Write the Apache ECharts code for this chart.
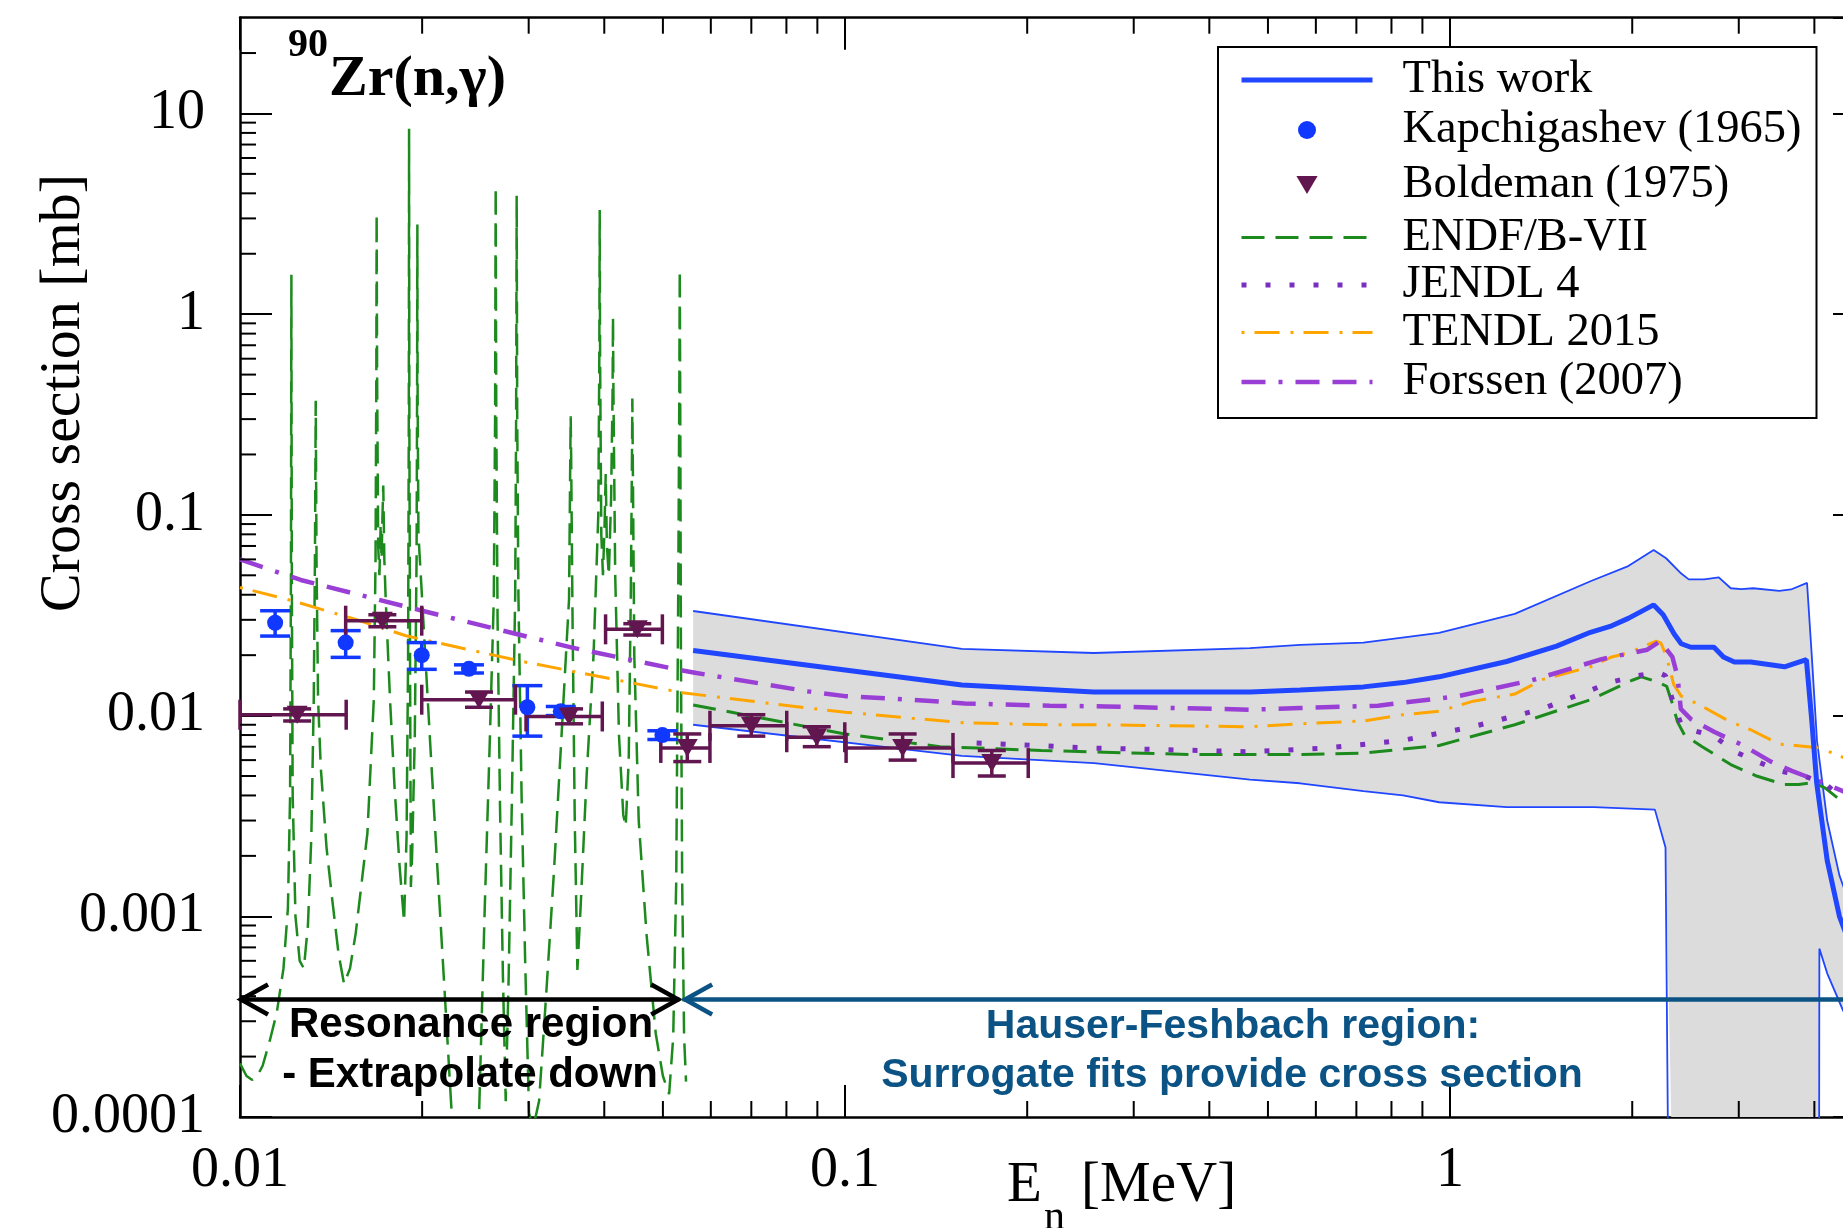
<!DOCTYPE html>
<html lang="en">
<head>
<meta charset="utf-8">
<title>90Zr(n,γ) capture cross section</title>
<script src="https://cdn.jsdelivr.net/npm/echarts@6.0.0/dist/echarts.min.js"></script>
<style>
  html, body { margin: 0; padding: 0; background: #ffffff; }
  #chart { width: 1843px; height: 1228px; }
</style>
</head>
<body>
<div id="chart"></div>
<script>
// ---- Axis ranges (neutron energy in MeV, cross section in mb) and labelled ticks ----
const energyRange = [0.01, 4.85];
const sigmaRange = [0.0001, 30];
const energyTicks = [0.01, 0.1, 1];
const energyTickLabels = ['0.01', '0.1', '1'];
const sigmaTicks = [0.0001, 0.001, 0.01, 0.1, 1, 10];
const sigmaTickLabels = ['0.0001', '0.001', '0.01', '0.1', '1', '10'];

// ---- This work: central curve and uncertainty band, [E, sigma] ----
const thisWork = [
  [0.0561, 0.0211], [0.156, 0.0142], [0.2577, 0.0131], [0.467, 0.0131], [0.565, 0.0134],
  [0.719, 0.0139], [0.836, 0.0146], [0.959, 0.0156], [1.24, 0.0186], [1.5, 0.0222],
  [1.706, 0.0260], [1.85, 0.0280], [1.97, 0.0305], [2.17, 0.0356], [2.25, 0.0318],
  [2.346, 0.0255], [2.41, 0.0228], [2.50, 0.0219], [2.73, 0.0219], [2.83, 0.0196],
  [2.95, 0.0185], [3.14, 0.0185], [3.57, 0.0175], [3.88, 0.0190], [3.96, 0.0095],
  [4.036, 0.0046], [4.2, 0.0019], [4.4, 0.0010], [4.6, 0.0007], [4.85, 0.0005]
];
const thisWorkUpper = [
  [0.0561, 0.0332], [0.156, 0.0215], [0.2577, 0.0205], [0.467, 0.0217], [0.565, 0.0225],
  [0.719, 0.0231], [0.959, 0.0258], [1.279, 0.0321], [1.706, 0.0467], [1.97, 0.0556],
  [2.17, 0.0669], [2.275, 0.0608], [2.41, 0.0510], [2.48, 0.0477], [2.63, 0.0477],
  [2.78, 0.0488], [2.91, 0.0431], [3.03, 0.0427], [3.17, 0.0431], [3.50, 0.0418],
  [3.66, 0.0425], [3.89, 0.0458], [3.96, 0.0200], [4.04, 0.0075], [4.2, 0.0030],
  [4.4, 0.0016], [4.6, 0.0011], [4.85, 0.0008]
];
const thisWorkLower = [
  [0.0561, 0.0090], [0.156, 0.0063], [0.258, 0.0058], [0.467, 0.0048], [0.565, 0.0046],
  [0.719, 0.0042], [0.836, 0.0040], [0.959, 0.0037], [1.24, 0.0035], [1.73, 0.0035],
  [2.18, 0.0034], [2.27, 0.0022], [2.32, 0.000001], [4.065, 0.000001], [4.077, 0.00069],
  [4.2, 0.00052], [4.46, 0.00034], [4.85, 0.00022]
];

// ---- Kapchigashev (1965) ----
const kapE = [0.01143, 0.01495, 0.01997, 0.0239, 0.02985, 0.0339, 0.0499];
const kapSigma = [0.0290, 0.0231, 0.0200, 0.0171, 0.0110, 0.0105, 0.0080];
const kapSigmaLo = [0.0249, 0.0195, 0.0170, 0.0163, 0.0079, 0.0100, 0.0076];
const kapSigmaHi = [0.0333, 0.0265, 0.0231, 0.0179, 0.0141, 0.0111, 0.0084];

// ---- Boldeman (1975) ----
const bolE = [0.01243, 0.01719, 0.02483, 0.03498, 0.04536, 0.05486, 0.0700, 0.0898, 0.1245, 0.1748];
const bolSigma = [0.0101, 0.0297, 0.0120, 0.0099, 0.0269, 0.0069, 0.0089, 0.0078, 0.0069, 0.0058];
const bolELo = [0.0100, 0.01495, 0.01997, 0.0297, 0.0402, 0.0496, 0.0598, 0.0801, 0.1004, 0.1508];
const bolEHi = [0.01498, 0.01997, 0.02853, 0.0397, 0.0499, 0.0598, 0.0801, 0.0999, 0.1508, 0.2008];
const bolSigmaLo = [0.0094, 0.0277, 0.0110, 0.0091, 0.0252, 0.0059, 0.0079, 0.0070, 0.0060, 0.0050];
const bolSigmaHi = [0.0108, 0.0318, 0.0131, 0.0108, 0.0287, 0.0081, 0.0101, 0.0088, 0.0081, 0.0067];

// ---- ENDF/B-VII: resolved resonances, then the smooth evaluation ----
const endfResonances = [
  [0.01000, 1.85e-4], [0.01025, 1.60e-4], [0.01048, 1.53e-4], [0.01070, 1.62e-4], [0.01090, 1.80e-4],
  [0.01120, 2.40e-4], [0.01150, 3.30e-4], [0.01180, 5.5e-4], [0.01200, 1.1e-3], [0.01210, 4.0e-3],
  [0.01214, 0.05], [0.01216, 1.57], [0.01218, 0.05], [0.01222, 4.0e-3], [0.01235, 1.0e-3],
  [0.01255, 6.0e-4], [0.01275, 5.5e-4], [0.01295, 9.0e-4], [0.01312, 2.5e-3], [0.01324, 0.012],
  [0.01330, 0.06], [0.01334, 0.37], [0.01338, 0.06], [0.01346, 0.012], [0.01360, 5.5e-3],
  [0.01390, 2.2e-3], [0.01421, 1.2e-3], [0.01455, 6.5e-4], [0.01486, 4.6e-4], [0.01520, 5.5e-4],
  [0.01553, 8.2e-4], [0.01590, 1.5e-3], [0.01624, 2.6e-3], [0.01664, 0.012], [0.01675, 0.06],
  [0.01680, 0.5], [0.01682, 3.16], [0.01685, 0.5], [0.01692, 0.07], [0.01700, 0.05],
  [0.01708, 0.09], [0.01714, 0.06], [0.01720, 0.10], [0.01725, 0.14], [0.01732, 0.06],
  [0.01741, 0.038], [0.01770, 0.012], [0.01800, 4.5e-3], [0.01835, 1.8e-3], [0.01867, 9.4e-4],
  [0.01885, 2.5e-3], [0.01896, 0.02], [0.01901, 0.3], [0.01903, 8.4], [0.01905, 0.3],
  [0.01910, 0.02], [0.01916, 1.4e-3], [0.01925, 2.0e-3], [0.01945, 8.0e-3], [0.01958, 0.06],
  [0.01962, 0.4], [0.01964, 2.8], [0.01966, 0.4], [0.01972, 0.08], [0.02000, 0.038],
  [0.02060, 7.7e-3], [0.02116, 1.9e-3], [0.02181, 4.0e-4], [0.02240, 1.0e-4], [0.02300, 4.5e-5],
  [0.02360, 3.5e-5], [0.02420, 4.5e-5], [0.02483, 1.0e-4], [0.02538, 1.1e-3], [0.02588, 7.7e-3],
  [0.02627, 0.038], [0.02640, 0.3], [0.02646, 4.3], [0.02652, 0.3], [0.02665, 0.03],
  [0.02690, 3.5e-3], [0.02720, 5.0e-4], [0.02749, 1.2e-4], [0.02780, 5.0e-4], [0.02815, 4.0e-3],
  [0.02850, 0.04], [0.02860, 0.3], [0.02866, 3.9], [0.02872, 0.3], [0.02885, 0.04],
  [0.02920, 4.0e-3], [0.02960, 6.0e-4], [0.03004, 1.05e-4], [0.03040, 9.0e-5], [0.03080, 1.0e-4],
  [0.03121, 1.2e-4], [0.03200, 3.7e-4], [0.03300, 1.6e-3], [0.03400, 8.0e-3], [0.03498, 0.038],
  [0.03515, 0.2], [0.03520, 0.31], [0.03526, 0.2], [0.03545, 0.03], [0.03575, 3.0e-3],
  [0.03611, 5.4e-4], [0.03660, 1.2e-3], [0.03740, 5.0e-3], [0.03840, 0.02], [0.03910, 0.1],
  [0.03925, 0.6], [0.03931, 3.3], [0.03937, 0.6], [0.03955, 0.08], [0.03980, 0.05],
  [0.04005, 0.09], [0.04022, 0.16], [0.04040, 0.07], [0.04070, 0.05], [0.04105, 0.12],
  [0.04128, 0.4], [0.04135, 0.97], [0.04142, 0.4], [0.04170, 0.05], [0.04230, 8.0e-3],
  [0.04300, 3.2e-3], [0.04340, 2.8e-3], [0.04390, 6.0e-3], [0.04425, 0.04], [0.04445, 0.2],
  [0.04451, 0.38], [0.04458, 0.2], [0.04484, 0.02], [0.04560, 3.0e-3], [0.04700, 8.0e-4],
  [0.04866, 2.6e-4], [0.05000, 1.6e-4], [0.05120, 1.3e-4], [0.05200, 2.5e-4], [0.05260, 1.5e-3],
  [0.05300, 0.04], [0.05322, 0.4], [0.05331, 1.66], [0.05340, 0.4], [0.05355, 0.02],
  [0.05380, 1.5e-3], [0.05420, 2.5e-4], [0.05460, 1.5e-4]
];
const endfSmooth = [
  [0.0561, 0.0113], [0.0801, 0.0092], [0.1, 0.0081], [0.129, 0.0073], [0.1436, 0.0070],
  [0.211, 0.0067], [0.37, 0.0064], [0.565, 0.0064], [0.719, 0.0065], [0.959, 0.0071],
  [1.279, 0.0090], [1.706, 0.0120], [2.00, 0.0150], [2.07, 0.0156], [2.19, 0.0148],
  [2.28, 0.0140], [2.33, 0.0115], [2.376, 0.0093], [2.44, 0.0080], [2.61, 0.0070],
  [2.91, 0.0057], [3.21, 0.0050], [3.56, 0.00454], [3.77, 0.00454], [3.99, 0.00464],
  [4.17, 0.00435], [4.46, 0.0037], [4.85, 0.0031]
];

// ---- JENDL 4 ----
const jendl = [
  [0.165, 0.0073], [0.206, 0.0071], [0.25, 0.0069], [0.315, 0.0068], [0.467, 0.0066],
  [0.628, 0.0069], [0.83, 0.0075], [1.09, 0.0088], [1.42, 0.0108], [1.85, 0.0147],
  [2.015, 0.0157], [2.21, 0.0164], [2.27, 0.0158], [2.33, 0.0120], [2.41, 0.0090],
  [2.50, 0.0085], [2.73, 0.0079], [2.96, 0.0066], [3.22, 0.0059], [3.50, 0.0053],
  [3.85, 0.0050], [4.20, 0.0045], [4.46, 0.0038], [4.85, 0.0031]
];

// ---- TENDL 2015 ----
const tendl = [
  [0.01, 0.0435], [0.0121, 0.0376], [0.0155, 0.0302], [0.0188, 0.0250], [0.0293, 0.0186],
  [0.0538, 0.0130], [0.0869, 0.0109], [0.1, 0.0104], [0.129, 0.0097], [0.1576, 0.0092],
  [0.218, 0.0090], [0.2577, 0.0090], [0.467, 0.0088], [0.565, 0.0091], [0.719, 0.0094],
  [0.836, 0.0101], [0.959, 0.0105], [1.092, 0.0118], [1.279, 0.0128], [1.42, 0.0151],
  [1.706, 0.0175], [1.85, 0.0196], [1.97, 0.0205], [2.19, 0.0235], [2.23, 0.0230],
  [2.275, 0.0200], [2.342, 0.0143], [2.41, 0.0125], [2.60, 0.0112], [2.906, 0.0093],
  [3.14, 0.0085], [3.50, 0.0072], [3.72, 0.0071], [4.08, 0.0069], [4.46, 0.0062], [4.85, 0.0054]
];

// ---- Forssen (2007) ----
const forssen = [
  [0.01, 0.0600], [0.0126, 0.0474], [0.02, 0.0333], [0.0354, 0.0218], [0.0531, 0.0169],
  [0.0568, 0.0163], [0.0869, 0.0132], [0.1, 0.0125], [0.129, 0.0120], [0.1576, 0.0115],
  [0.218, 0.0112], [0.27, 0.0111], [0.467, 0.0107], [0.565, 0.0109], [0.76, 0.0112],
  [1.03, 0.0125], [1.366, 0.0150], [1.78, 0.0191], [2.118, 0.0213], [2.225, 0.0235],
  [2.33, 0.0196], [2.376, 0.0157], [2.406, 0.0108], [2.50, 0.0096], [2.73, 0.0083],
  [3.05, 0.0071], [3.39, 0.0059], [3.67, 0.0053], [4.08, 0.0047], [4.46, 0.0042], [4.85, 0.0037]
];

// ---- Energy regions marked by arrows: [E start, E end, sigma level] ----
const resonanceRegion = [0.0100, 0.0532, 3.85e-4];
const hauserFeshbachRegion = [0.0542, 6.0, 3.85e-4];

// ---- Styles ----
const BLUE = '#2046ff';
const KAP_COLOR = '#1038ff';
const BOL_COLOR = '#621650';
const ENDF_COLOR = '#1c8a1c';
const JENDL_COLOR = '#7b2fbe';
const TENDL_COLOR = '#ffa500';
const FORSSEN_COLOR = '#9a3fd6';
const HF_COLOR = '#0b5384';
const SERIF = '"Liberation Serif", "Times New Roman", serif';
const SANS = '"Liberation Sans", Arial, sans-serif';

function tickLabel(v, vals, labels) {
  for (let i = 0; i < vals.length; i++) {
    if (Math.abs(v / vals[i] - 1) < 1e-6) return labels[i];
  }
  return '';
}

// minor ticks at 2..9 x 10^k inside a log range
function minorTickValues(range) {
  const out = [];
  const lo = Math.floor(Math.log10(range[0]));
  const hi = Math.ceil(Math.log10(range[1]));
  for (let p = lo; p < hi; p++) {
    for (let k = 2; k <= 9; k++) {
      const v = k * Math.pow(10, p);
      if (v > range[0] * 1.000001 && v < range[1] * 0.999999) out.push(v);
    }
  }
  return out;
}
const energyMinor = minorTickValues(energyRange);
const sigmaMinor = minorTickValues(sigmaRange);

function seg(x1, y1, x2, y2, color, width) {
  return { type: 'line', shape: { x1: x1, y1: y1, x2: x2, y2: y2 },
           style: { stroke: color, lineWidth: width, fill: null } };
}

function renderMinorTicks(params, api) {
  const cs = params.coordSys;
  const L = cs.x, R = cs.x + cs.width, T = cs.y, B = cs.y + cs.height;
  const len = 16;
  const kids = [];
  energyMinor.forEach(function (v) {
    const x = api.coord([v, sigmaRange[0]])[0];
    kids.push(seg(x, B, x, B - len, '#000', 2));
    kids.push(seg(x, T, x, T + len, '#000', 2));
  });
  sigmaMinor.forEach(function (v) {
    const y = api.coord([energyRange[0], v])[1];
    kids.push(seg(L, y, L + len, y, '#000', 2));
    kids.push(seg(R, y, R - len, y, '#000', 2));
  });
  return { type: 'group', children: kids };
}

function renderBand(params, api) {
  const pts = [];
  thisWorkUpper.forEach(function (p) { pts.push(api.coord(p)); });
  for (let i = thisWorkLower.length - 1; i >= 0; i--) {
    const p = thisWorkLower[i];
    pts.push(api.coord([p[0], Math.max(p[1], sigmaRange[0])]));
  }
  return { type: 'polygon', shape: { points: pts }, style: { fill: '#dcdcdc', stroke: null } };
}

function renderKapErrors(params, api) {
  const e = api.value(0);
  const a = api.coord([e, api.value(1)]);
  const b = api.coord([e, api.value(2)]);
  const c = 15, w = 3.5;
  return { type: 'group', children: [
    seg(a[0], a[1], b[0], b[1], KAP_COLOR, w),
    seg(a[0] - c, a[1], a[0] + c, a[1], KAP_COLOR, w),
    seg(b[0] - c, b[1], b[0] + c, b[1], KAP_COLOR, w)
  ] };
}

function renderBolErrors(params, api) {
  const e = api.value(0), s = api.value(1);
  const l = api.coord([api.value(2), s]);
  const r = api.coord([api.value(3), s]);
  const d = api.coord([e, api.value(4)]);
  const u = api.coord([e, api.value(5)]);
  const c = 15, w = 3.5;
  return { type: 'group', children: [
    seg(l[0], l[1], r[0], r[1], BOL_COLOR, w),
    seg(l[0], l[1] - c, l[0], l[1] + c, BOL_COLOR, w),
    seg(r[0], r[1] - c, r[0], r[1] + c, BOL_COLOR, w),
    seg(d[0], d[1], u[0], u[1], BOL_COLOR, w),
    seg(d[0] - 14, d[1], d[0] + 14, d[1], BOL_COLOR, w),
    seg(u[0] - 14, u[1], u[0] + 14, u[1], BOL_COLOR, w)
  ] };
}

function arrowRenderer(color, headLeft, headRight) {
  return function (params, api) {
    const a = api.coord([api.value(0), api.value(2)]);
    const b = api.coord([api.value(1), api.value(2)]);
    const hx = 28, hy = 15, w = 4.5;
    const kids = [seg(a[0], a[1], b[0], b[1], color, w)];
    if (headLeft) {
      kids.push({ type: 'polyline', shape: { points: [[a[0] + hx, a[1] - hy], [a[0] + 1, a[1]], [a[0] + hx, a[1] + hy]] },
                  style: { stroke: color, lineWidth: w, fill: null } });
    }
    if (headRight) {
      kids.push({ type: 'polyline', shape: { points: [[b[0] - hx, b[1] - hy], [b[0] - 1, b[1]], [b[0] - hx, b[1] + hy]] },
                  style: { stroke: color, lineWidth: w, fill: null } });
    }
    return { type: 'group', children: kids };
  };
}

function logAxis(kind, position, showLabels) {
  const isX = kind === 'x';
  const range = isX ? energyRange : sigmaRange;
  return {
    type: 'log', logBase: 10, position: position,
    min: range[0], max: range[1],
    axisLine: { show: true, onZero: false, lineStyle: { color: '#000', width: 2.5 } },
    axisTick: { show: true, inside: true, length: 32, lineStyle: { color: '#000', width: 2 } },
    axisLabel: {
      show: showLabels, margin: isX ? 26 : 35,
      fontFamily: SERIF, fontSize: 56, color: '#000',
      showMinLabel: true, showMaxLabel: false,
      formatter: function (v) {
        return isX ? tickLabel(v, energyTicks, energyTickLabels) : tickLabel(v, sigmaTicks, sigmaTickLabels);
      }
    },
    splitLine: { show: false },
    minorTick: { show: false },
    minorSplitLine: { show: false }
  };
}

// legend rows: text box padding (top = bottom) sets each row's height
function legendText(pad) {
  return { padding: [pad, 0, pad, 25] };
}
const noMarker = { opacity: 0 };

const chart = echarts.init(document.getElementById('chart'), null, { renderer: 'canvas' });

const option = {
  animation: false,
  backgroundColor: '#ffffff',
  grid: { left: 240, right: -22, top: 17.7, bottom: 111, containLabel: false, outerBoundsMode: 'none' },
  xAxis: [ logAxis('x', 'bottom', true), logAxis('x', 'top', false) ],
  yAxis: [ logAxis('y', 'left', true), logAxis('y', 'right', false) ],
  legend: {
    orient: 'vertical', left: 1218, top: 47,
    padding: [9, 15, 10, 21],
    itemWidth: 131, itemHeight: 18, itemGap: 0,
    borderColor: '#000', borderWidth: 2, borderRadius: 0, backgroundColor: '#ffffff',
    selectedMode: false,
    textStyle: { fontFamily: SERIF, fontSize: 46.5, color: '#000', lineHeight: 44 },
    data: [
      { name: 'This work', itemStyle: noMarker, lineStyle: { width: 5, type: 'solid' }, textStyle: legendText(2) },
      { name: 'Kapchigashev (1965)', icon: 'circle', textStyle: legendText(4) },
      { name: 'Boldeman (1975)', icon: 'path://M0,0L20,0L10,17Z', textStyle: legendText(7) },
      { name: 'ENDF/B-VII', itemStyle: noMarker, lineStyle: { width: 3, type: [23, 11] }, textStyle: legendText(1) },
      { name: 'JENDL 4', itemStyle: noMarker, lineStyle: { width: 5, type: [5, 19] }, textStyle: legendText(2) },
      { name: 'TENDL 2015', itemStyle: noMarker, lineStyle: { width: 3, type: [3, 10, 25, 11] }, textStyle: legendText(1) },
      { name: 'Forssen (2007)', itemStyle: noMarker, lineStyle: { width: 4.5, type: [24, 13, 4, 13, 24, 13] }, textStyle: legendText(4) }
    ]
  },
  series: [
    { type: 'custom', name: 'band', z: 1, silent: true, data: [[1, 0.01]], renderItem: renderBand },
    { type: 'line', name: 'This work (upper)', z: 2, data: thisWorkUpper, symbol: 'none', silent: true,
      lineStyle: { color: BLUE, width: 1.8 } },
    { type: 'line', name: 'This work (lower)', z: 2, data: thisWorkLower, symbol: 'none', silent: true,
      lineStyle: { color: BLUE, width: 1.8 } },
    { type: 'line', name: 'ENDF/B-VII', z: 3, data: endfResonances, symbol: 'none', silent: true,
      itemStyle: { color: ENDF_COLOR }, lineStyle: { color: ENDF_COLOR, width: 2.5, type: [22, 10] } },
    { type: 'line', name: 'ENDF/B-VII', z: 3, data: endfSmooth, symbol: 'none', silent: true,
      itemStyle: { color: ENDF_COLOR }, lineStyle: { color: ENDF_COLOR, width: 3, type: [23, 11] } },
    { type: 'line', name: 'JENDL 4', z: 3, data: jendl, symbol: 'none', silent: true,
      itemStyle: { color: JENDL_COLOR }, lineStyle: { color: JENDL_COLOR, width: 5, type: [5, 19], cap: 'butt' } },
    { type: 'line', name: 'TENDL 2015', z: 3, data: tendl, symbol: 'none', silent: true,
      itemStyle: { color: TENDL_COLOR }, lineStyle: { color: TENDL_COLOR, width: 3, type: [3, 10, 25, 11] } },
    { type: 'line', name: 'Forssen (2007)', z: 3, data: forssen, symbol: 'none', silent: true,
      itemStyle: { color: FORSSEN_COLOR }, lineStyle: { color: FORSSEN_COLOR, width: 4.5, type: [24, 13, 4, 13, 24, 13] } },
    { type: 'line', name: 'This work', z: 4, data: thisWork, symbol: 'none', silent: true,
      itemStyle: { color: BLUE }, lineStyle: { color: BLUE, width: 5 } },
    { type: 'custom', name: 'Kapchigashev errors', z: 5, silent: true,
      data: kapE.map(function (e, i) { return [e, kapSigmaLo[i], kapSigmaHi[i]]; }),
      renderItem: renderKapErrors },
    { type: 'scatter', name: 'Kapchigashev (1965)', z: 6, silent: true, symbol: 'circle', symbolSize: 16,
      itemStyle: { color: KAP_COLOR, opacity: 1 },
      data: kapE.map(function (e, i) { return [e, kapSigma[i]]; }) },
    { type: 'custom', name: 'Boldeman errors', z: 5, silent: true,
      data: bolE.map(function (e, i) { return [e, bolSigma[i], bolELo[i], bolEHi[i], bolSigmaLo[i], bolSigmaHi[i]]; }),
      renderItem: renderBolErrors },
    { type: 'scatter', name: 'Boldeman (1975)', z: 6, silent: true, symbol: 'triangle', symbolRotate: 180,
      symbolSize: [21, 18], itemStyle: { color: BOL_COLOR, opacity: 1 },
      data: bolE.map(function (e, i) { return [e, bolSigma[i]]; }) },
    { type: 'custom', name: 'resonance region', z: 7, silent: true, clip: false,
      encode: { x: [0, 1], y: 2 }, data: [resonanceRegion], renderItem: arrowRenderer('#000', true, true) },
    { type: 'custom', name: 'Hauser-Feshbach region', z: 7, silent: true, clip: false,
      encode: { x: [0, 1], y: 2 }, data: [hauserFeshbachRegion], renderItem: arrowRenderer(HF_COLOR, true, false) },
    { type: 'custom', name: 'minor ticks', z: 8, silent: true, clip: false, data: [[1, 0.01]], renderItem: renderMinorTicks }
  ],
  graphic: [
    { type: 'text', x: 288, y: 46, z: 100, silent: true,
      style: { text: '90', fontFamily: SERIF, fontWeight: 'bold', fontSize: 40, fill: '#000', align: 'left', verticalAlign: 'middle' } },
    { type: 'text', x: 329, y: 80, z: 100, silent: true,
      style: { text: 'Zr(n,γ)', fontFamily: SERIF, fontWeight: 'bold', fontSize: 58, fill: '#000', align: 'left', verticalAlign: 'middle' } },
    { type: 'text', x: 64, y: 393, rotation: Math.PI / 2, z: 100, silent: true,
      style: { text: 'Cross section [mb]', fontFamily: SERIF, fontSize: 58, fill: '#000', align: 'center', verticalAlign: 'middle' } },
    { type: 'text', x: 1007, y: 1186, z: 100, silent: true,
      style: { text: 'E', fontFamily: SERIF, fontSize: 57, fill: '#000', align: 'left', verticalAlign: 'middle' } },
    { type: 'text', x: 1044, y: 1218, z: 100, silent: true,
      style: { text: 'n', fontFamily: SERIF, fontSize: 42, fill: '#000', align: 'left', verticalAlign: 'middle' } },
    { type: 'text', x: 1081, y: 1186, z: 100, silent: true,
      style: { text: '[MeV]', fontFamily: SERIF, fontSize: 57, fill: '#000', align: 'left', verticalAlign: 'middle' } },
    { type: 'text', x: 471, y: 1025, z: 100, silent: true,
      style: { text: 'Resonance region', fontFamily: SANS, fontWeight: 'bold', fontSize: 42, fill: '#000', align: 'center', verticalAlign: 'middle' } },
    { type: 'text', x: 470, y: 1075, z: 100, silent: true,
      style: { text: '- Extrapolate down', fontFamily: SANS, fontWeight: 'bold', fontSize: 42, fill: '#000', align: 'center', verticalAlign: 'middle' } },
    { type: 'text', x: 1233, y: 1027, z: 100, silent: true,
      style: { text: 'Hauser-Feshbach region:', fontFamily: SANS, fontWeight: 'bold', fontSize: 41, fill: HF_COLOR, align: 'center', verticalAlign: 'middle' } },
    { type: 'text', x: 1232, y: 1076, z: 100, silent: true,
      style: { text: 'Surrogate fits provide cross section', fontFamily: SANS, fontWeight: 'bold', fontSize: 41, fill: HF_COLOR, align: 'center', verticalAlign: 'middle' } }
  ]
};

chart.setOption(option);
</script>
</body>
</html>
